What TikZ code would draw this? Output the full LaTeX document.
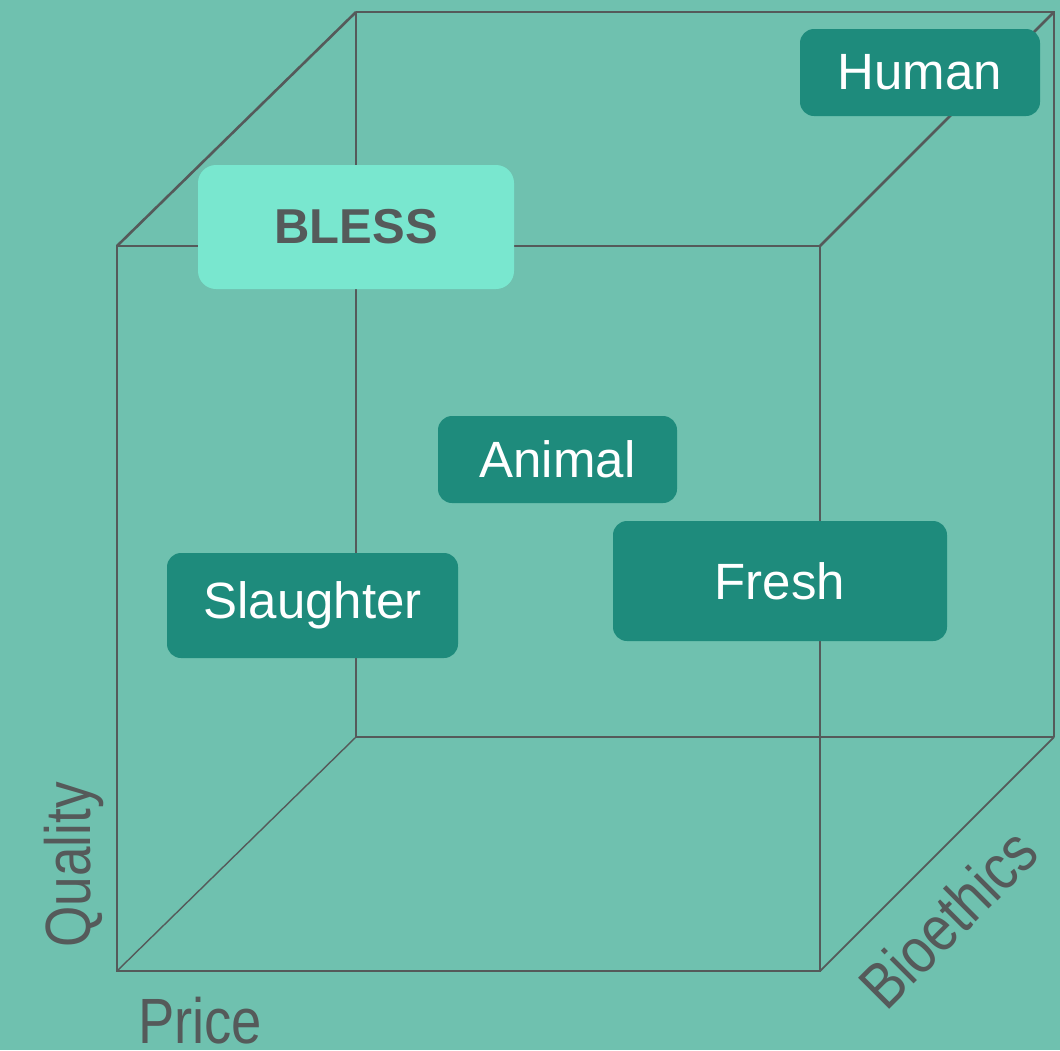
\documentclass[tikz,border=0pt]{standalone}
\usepackage{fontspec}
\setmainfont{Liberation Sans}
\definecolor{bg}{HTML}{6FC1AF}
\definecolor{boxdark}{HTML}{1E8B7C}
\definecolor{boxlight}{HTML}{79E7CF}
\definecolor{ink}{HTML}{555A5A}
\begin{document}
\begin{tikzpicture}[x=1pt,y=-1pt,
  front/.style={draw=ink,line width=2.6pt},
  back/.style={draw=ink,line width=1.8pt},
  darkbox/.style={fill=boxdark,rounded corners=14pt,inner sep=0pt,text=white,font=\fontsize{51}{60}\selectfont},
  lightbox/.style={fill=boxlight,rounded corners=18pt,inner sep=0pt,text=ink,font=\fontsize{49}{58}\selectfont\bfseries},
  axislabel/.style={text=ink,inner sep=0pt,font=\fontsize{64}{76}\selectfont}]
\fill[bg] (0,0) rectangle (1060,1050);
\useasboundingbox (0,0) rectangle (1060,1050);
% cube corners
\coordinate (ftl) at (117,246);
\coordinate (ftr) at (820,246);
\coordinate (fbl) at (117,971);
\coordinate (fbr) at (820,971);
\coordinate (btl) at (356,12);
\coordinate (btr) at (1054,12);
\coordinate (bbl) at (356,737);
\coordinate (bbr) at (1054,737);
% back square
\draw[back] (btl) -- (bbl) -- (bbr);
\draw[front] (btl) -- (btr) -- (bbr);
% diagonals
\draw[front] (ftl) -- (btl);
\draw[front] (ftr) -- (btr);
\draw[back] (fbr) -- (bbr);
\draw[back,line width=1.4pt] (fbl) -- (bbl);
% front square
\draw[front] (ftl) -- (ftr) -- (fbr) -- (fbl) -- cycle;
% boxes
\node[lightbox,minimum width=316pt,minimum height=124pt] (bless) at (356,227) {BLESS};
\node[darkbox,minimum width=240pt,minimum height=87pt] (human) at (920,72.5) {Human};
\node[darkbox,minimum width=239pt,minimum height=87pt] (animal) at (557.5,459.5) {Animal};
\node[darkbox,minimum width=291pt,minimum height=105pt] (slaughter) at (312.5,605.5) {Slaughter};
\node[darkbox,minimum width=334pt,minimum height=120pt] (fresh) at (780,581) {Fresh};
% axis labels
\node[axislabel,rotate=90,anchor=base] (quality) at (90,865) {\scalebox{0.83}[1]{Quality}};
\node[axislabel,anchor=base] (price) at (200,1043) {\scalebox{0.85}[1]{Price}};
\node[axislabel,rotate=45,anchor=center] (bioethics) at (948,918) {\scalebox{0.85}[1]{Bioethics}};
\end{tikzpicture}
\end{document}
